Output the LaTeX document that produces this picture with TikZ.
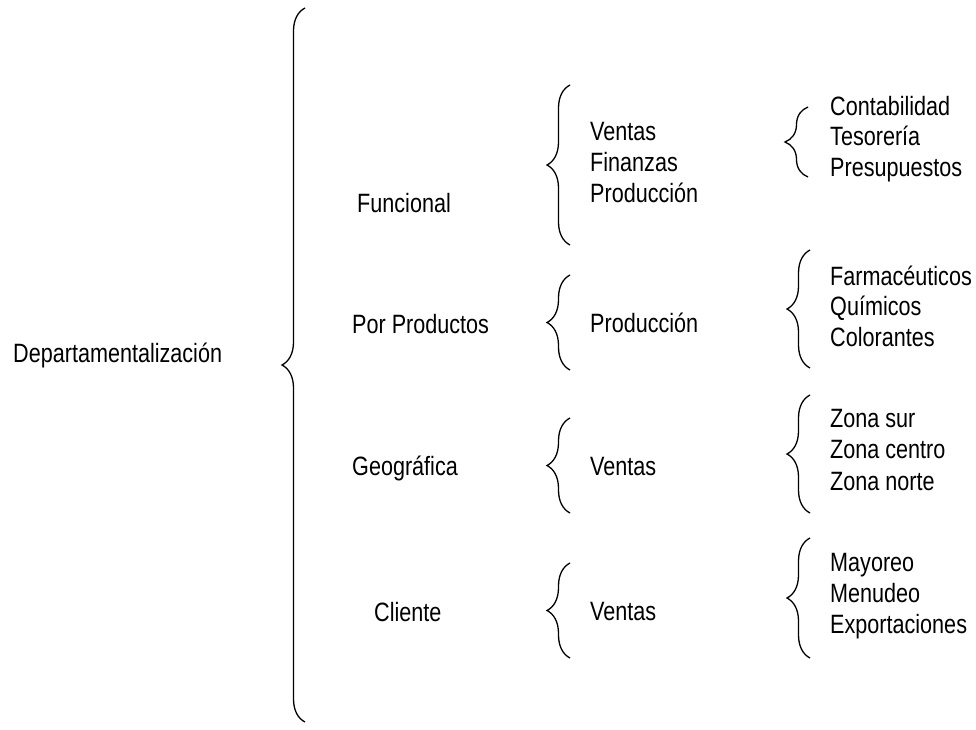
\documentclass[tikz,border=0pt]{standalone}
\usepackage{fontspec}
\setmainfont{Liberation Sans}[FakeStretch=0.815]
\usetikzlibrary{decorations.pathreplacing}

\tikzset{
  lbl/.style={anchor=base west, inner sep=0pt, font=\fontsize{26.5}{31}\selectfont},
  llave/.style={decorate, decoration={brace, amplitude=23pt}, line width=1.3pt},
}

\begin{document}
\begin{tikzpicture}[x=1pt,y=-1pt]
\useasboundingbox (0,0) rectangle (976,729);

% primer nivel
\node[lbl] (dep) at (13,362) {Departamentalización};
\coordinate (b0a) at (305,722);
\coordinate (b0b) at (305,8);
\draw[llave] (b0a) -- (b0b);

% tipos
\node[lbl] (fun) at (357,212) {Funcional};
\node[lbl] (pro) at (352,333) {Por Productos};
\node[lbl] (geo) at (352,475) {Geográfica};
\node[lbl] (cli) at (374,621) {Cliente};

% segundo nivel
\draw[llave] (570,245) -- (570,85);
\foreach \t [count=\i] in {Ventas,Finanzas,Producción}{
    \node[lbl] (funa\i) at (590,{140+31*(\i-1)}) {\t};
}
\draw[llave] (570,370) -- (570,275);
\node[lbl] (proa) at (590,332) {Producción};
\draw[llave] (570,513) -- (570,418);
\node[lbl] (geoa) at (590,475) {Ventas};
\draw[llave] (570,658) -- (570,563);
\node[lbl] (clia) at (590,620) {Ventas};

% tercer nivel
\draw[llave] (808,177) -- (808,107);
\foreach \t [count=\i] in {Contabilidad,Tesorería,Presupuestos}{
    \node[lbl] (funb\i) at (830,{115+30.5*(\i-1)}) {\t};
}
\draw[llave] (810,368) -- (810,250);
\foreach \t [count=\i] in {Farmacéuticos,Químicos,Colorantes}{
    \node[lbl] (prob\i) at (830,{285+30.5*(\i-1)}) {\t};
}
\draw[llave] (810,513) -- (810,395);
\foreach \t [count=\i] in {Zona sur,Zona centro,Zona norte}{
    \node[lbl] (geob\i) at (830,{427+31.5*(\i-1)}) {\t};
}
\draw[llave] (810,658) -- (810,538);
\foreach \t [count=\i] in {Mayoreo,Menudeo,Exportaciones}{
    \node[lbl] (clib\i) at (830,{571+31*(\i-1)}) {\t};
}
\end{tikzpicture}
\end{document}
